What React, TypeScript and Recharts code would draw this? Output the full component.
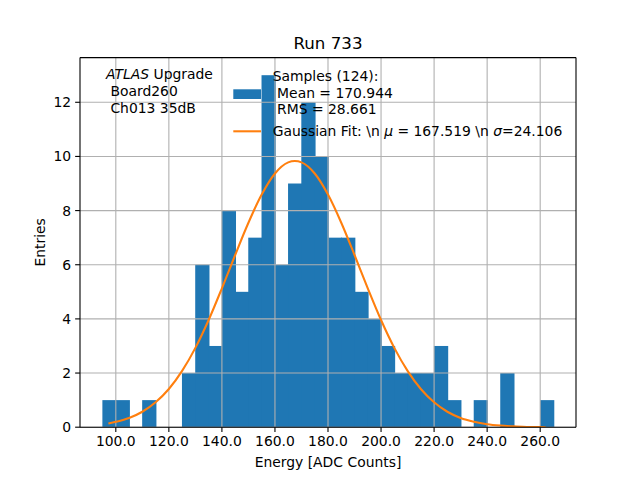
import React from 'react';
import { ComposedChart, Bar, Line, XAxis, YAxis, ReferenceLine } from 'recharts';

const binCenters = [97.5, 102.5, 107.5, 112.5, 117.5, 122.5, 127.5, 132.5, 137.5, 142.5, 147.5, 152.5, 157.5, 162.5, 167.5, 172.5, 177.5, 182.5, 187.5, 192.5, 197.5, 202.5, 207.5, 212.5, 217.5, 222.5, 227.5, 232.5, 237.5, 242.5, 247.5, 252.5, 257.5, 262.5];
const counts = [1, 1, 0, 1, 0, 0, 2, 6, 3, 8, 5, 7, 13, 6, 9, 12, 10, 7, 7, 5, 4, 3, 2, 2, 2, 3, 1, 0, 1, 0, 2, 0, 0, 1];

const fitX = [97.2, 100, 105, 110, 115, 120, 125, 130, 135, 140, 145, 150, 155, 160, 165, 167.5, 170, 175, 180, 185, 190, 195, 200, 205, 210, 215, 220, 225, 230, 235, 240, 245, 250, 255, 260, 262];
const fitY = [0.14, 0.2, 0.34, 0.57, 0.92, 1.41, 2.08, 2.93, 3.96, 5.13, 6.36, 7.55, 8.59, 9.37, 9.78, 9.83, 9.78, 9.37, 8.59, 7.55, 6.36, 5.13, 3.96, 2.93, 2.08, 1.41, 0.92, 0.57, 0.34, 0.2, 0.11, 0.06, 0.03, 0.01, 0.01, 0.0];

const xTicks = [100, 120, 140, 160, 180, 200, 220, 240, 260];
const yTicks = [0, 2, 4, 6, 8, 10, 12];
const xDomain = [86.5, 273.5];
const yDomain = [0, 13.65];
const binWidth = 5;

const histData = binCenters.map((x, i) => ({ x, n: counts[i] }));
const fitData = fitX.map((x, i) => ({ x, g: fitY[i] }));

const FONT = 'DejaVu Sans';
const W = 640;
const H = 480;
const plotLeft = 80;
const plotRight = 576;
const barPx = (binWidth * (plotRight - plotLeft)) / (xDomain[1] - xDomain[0]);
const SP = '\u00A0';

const HistBar = (props: any) => {
  const { x, y, width, height } = props;
  if (!height || height <= 0) return null;
  const cx = x + width / 2;
  return (
    <rect
      x={cx - barPx / 2 - 0.5}
      y={y}
      width={barPx + 1}
      height={height}
      fill="#1f77b4"
    />
  );
};

export default function App() {
  const tickStyle = { fontFamily: FONT, fontSize: 13.9, fill: '#000' };
  return (
    <div style={{ position: 'absolute', left: 0, top: 0, width: W, height: H, background: '#fff' }}>
      <ComposedChart
        width={W}
        height={H}
        data={histData}
        margin={{ top: 57.6, right: W - plotRight, left: 0, bottom: 0 }}
        barCategoryGap={0}
        barGap={0}
      >
        <XAxis
          dataKey="x"
          type="number"
          domain={xDomain}
          allowDataOverflow
          ticks={xTicks}
          tickFormatter={(v: number) => v.toFixed(1)}
          height={52.8}
          tickSize={4.86}
          tickMargin={4}
          tick={tickStyle}
          axisLine={{ stroke: '#000', strokeWidth: 1.1 }}
          tickLine={{ stroke: '#000', strokeWidth: 1.1 }}
          interval={0}
        />
        <XAxis
          xAxisId="fit"
          dataKey="x"
          type="number"
          domain={xDomain}
          allowDataOverflow
          hide
        />
        <YAxis
          type="number"
          domain={yDomain}
          allowDataOverflow
          ticks={yTicks}
          width={plotLeft}
          tickSize={4.86}
          tickMargin={4}
          tick={tickStyle}
          axisLine={{ stroke: '#000', strokeWidth: 1.1 }}
          tickLine={{ stroke: '#000', strokeWidth: 1.1 }}
          interval={0}
        />
        <Bar
          dataKey="n"
          fill="#1f77b4"
          barSize={barPx}
          shape={HistBar}
          isAnimationActive={false}
        />
        {xTicks.map((t) => (
          <ReferenceLine key={'gx' + t} x={t} stroke="#b0b0b0" strokeWidth={1.1} />
        ))}
        {yTicks.map((t) => (
          <ReferenceLine key={'gy' + t} y={t} stroke="#b0b0b0" strokeWidth={1.1} />
        ))}
        <ReferenceLine x={xDomain[1]} stroke="#000" strokeWidth={1.1} />
        <ReferenceLine y={yDomain[1]} stroke="#000" strokeWidth={1.1} />
        <Line
          xAxisId="fit"
          data={fitData}
          dataKey="g"
          type="monotone"
          stroke="#ff7f0e"
          strokeWidth={2.08}
          dot={false}
          activeDot={false}
          isAnimationActive={false}
        />
      </ComposedChart>
      <svg
        width={W}
        height={H}
        style={{ position: 'absolute', left: 0, top: 0, pointerEvents: 'none' }}
        fontFamily={FONT}
      >
        <text x={328} y={49} fontSize={16.67} textAnchor="middle">Run 733</text>
        <text x={328} y={467} fontSize={13.9} textAnchor="middle">Energy [ADC Counts]</text>
        <text x={45} y={242.4} fontSize={13.9} textAnchor="middle" transform="rotate(-90 45 242.4)">Entries</text>
        <g fontSize={13.9}>
          <text x={106} y={79.3}><tspan fontStyle="italic">ATLAS</tspan>{SP}Upgrade</text>
          <text x={106} y={96.3}>{SP + 'Board260'}</text>
          <text x={106} y={113}>{SP + 'Ch013 35dB'}</text>
        </g>
        <rect x={233.3} y={89.3} width={27.7} height={9.7} fill="#1f77b4" />
        <line x1={233.3} x2={261} y1={131.3} y2={131.3} stroke="#ff7f0e" strokeWidth={2.08} />
        <g fontSize={13.9}>
          <text x={272.7} y={81}>Samples (124):</text>
          <text x={272.7} y={97.5}>{SP + 'Mean = 170.944'}</text>
          <text x={272.7} y={114}>{SP + 'RMS = 28.661'}</text>
          <text x={272.7} y={136}>{'Gaussian Fit: \\n' + SP}<tspan fontStyle="italic">μ</tspan>{SP + '= 167.519 \\n' + SP}<tspan fontStyle="italic">σ</tspan>=24.106</text>
        </g>
      </svg>
    </div>
  );
}
